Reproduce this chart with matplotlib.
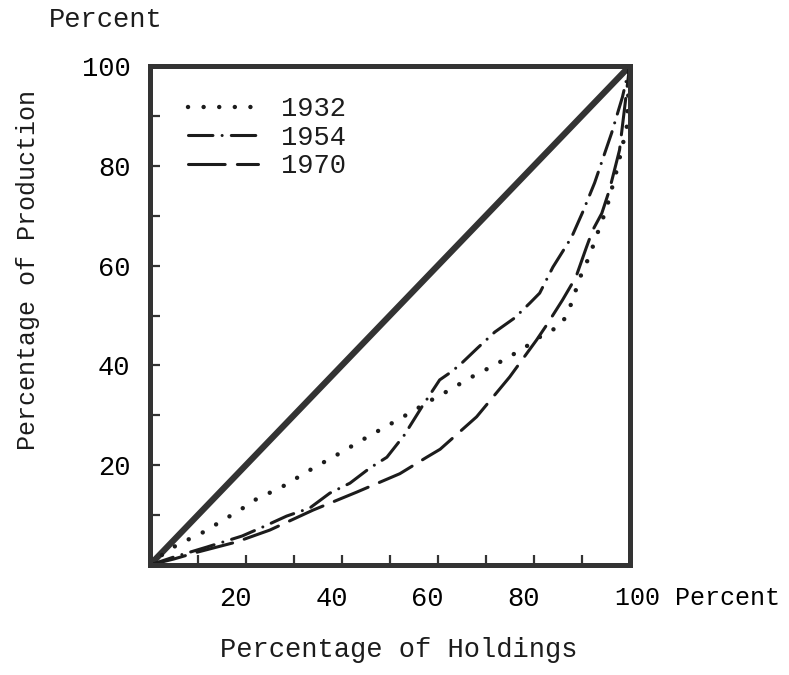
import matplotlib
matplotlib.use("Agg")
from matplotlib import pyplot as plt
from matplotlib.transforms import ScaledTranslation

# Lorenz curves (percentage of holdings vs percentage of production)
x_1932 = [0, 3.75, 6.9, 10.8, 14.6, 18.75, 22.5, 27.1, 33.3, 39.2, 45.4, 51.7, 54.2, 58.75,
          62.5, 66.7, 71.9, 77.7, 81.9, 85.8, 87.9, 89.6, 91.7, 93.3, 95.2, 97.5, 99.4, 100]
y_1932 = [0, 3.0, 4.6, 6.4, 8.6, 11.0, 13.4, 15.4, 19.0, 22.2, 25.7, 29.1, 30.5, 33.1,
          35.1, 37.5, 40.1, 43.3, 46.1, 48.1, 52.5, 57.5, 62.1, 66.5, 71.5, 79.8, 87.8, 100]

x_1954 = [0, 5, 11.9, 19.2, 23.5, 28.5, 33.3, 37.5, 41.7, 45.8, 49.4, 53, 56.7, 60.4,
          62.5, 64.6, 68.3, 71.9, 76.0, 79.2, 81.25, 84, 87.9, 90.2, 92.7, 96.25, 98.5, 100]
y_1954 = [0, 1.6, 3.6, 5.8, 7.6, 9.8, 11.4, 14.4, 16.4, 19.4, 21.6, 26.0, 31.7, 37.1,
          38.5, 40.1, 43.5, 46.7, 49.5, 52.5, 54.5, 59.7, 65.7, 70.7, 76.6, 86.6, 93.8, 100]

x_1970 = [0, 5, 10, 14, 18, 25, 34, 43.1, 52.1, 57.7, 60.5, 68.1, 75, 80.6, 82.7, 86,
          88.8, 91, 92.3, 94.2, 95.8, 97.9, 100]
y_1970 = [0, 1.2, 2.6, 3.6, 4.6, 7.0, 11, 14.6, 18.3, 21.6, 23.2, 29.7, 37.7, 45.1, 48.1,
          53.1, 57.7, 63.7, 67.1, 70.5, 75.2, 83.2, 100]

equality = [0, 100]

major_ticks = [20, 40, 60, 80, 100]
minor_ticks = [10, 30, 50, 70, 90]
x_ticklabels = ["20", "40", "60", "80", "100 Percent"]
y_ticklabels = ["20", "40", "60", "80", "100"]

INK = "#1c1c1c"
FRAME = "#333333"

plt.rcParams["font.family"] = ["Liberation Mono", "DejaVu Sans Mono"]
plt.rcParams["font.size"] = 19.5
plt.rcParams["text.color"] = INK

fig = plt.figure(figsize=(7.89, 6.75), dpi=100)
ax = fig.add_axes([0.190, 0.163, 0.608, 0.739])

ax.plot(equality, equality, color=FRAME, linewidth=4.5, solid_capstyle="butt")
ax.plot(x_1932, y_1932, color=INK, linewidth=3.2, linestyle=(0, (0.01, 3.5)),
        dash_capstyle="round", label="1932")
ax.plot(x_1954, y_1954, color=INK, linewidth=2.2, linestyle=(0, (8, 3, 0.01, 3)),
        dash_capstyle="round", label="1954")
ax.plot(x_1970, y_1970, color=INK, linewidth=2.2, linestyle=(0, (12, 4)),
        dash_capstyle="round", label="1970")

ax.set_xlim(0, 100)
ax.set_ylim(0, 100)

ax.set_xticks(major_ticks)
ax.set_xticks(minor_ticks, minor=True)
ax.set_yticks(major_ticks)
ax.set_yticks(minor_ticks, minor=True)
ax.tick_params(which="both", direction="in", length=7, width=1.6, color=FRAME,
               top=False, right=False)
ax.tick_params(axis="x", which="major", pad=15)
ax.tick_params(axis="y", which="major", pad=14)
ax.set_xticklabels(x_ticklabels)
ax.set_yticklabels(y_ticklabels)

# typed labels sit a little left of their ticks; last one runs on as "100 Percent"
shift = ScaledTranslation(-10 / 100, 0, fig.dpi_scale_trans)
for lab in ax.get_xticklabels():
    lab.set_transform(lab.get_transform() + shift)
last = ax.get_xticklabels()[-1]
last.set_horizontalalignment("left")
last.set_fontsize(18)
last.set_transform(last.get_transform() + ScaledTranslation(-5 / 100, 0, fig.dpi_scale_trans))

for sp in ax.spines.values():
    sp.set_linewidth(3.6)
    sp.set_color(FRAME)

ax.legend(loc="upper left", bbox_to_anchor=(0.079, 0.94), frameon=False,
          handlelength=2.6, handletextpad=0.85, labelspacing=0.1,
          borderpad=0, borderaxespad=0, fontsize=19.5)

fig.text(106 / 789, 1 - 20 / 675, "Percent", ha="center", va="center")
fig.text(28 / 789, 1 - 270 / 675, "Percentage of Production", rotation=90,
         ha="center", va="center", fontsize=18)
fig.text(399 / 789, 1 - 650 / 675, "Percentage of Holdings", ha="center", va="center")

fig.savefig("out.png", dpi=100)
